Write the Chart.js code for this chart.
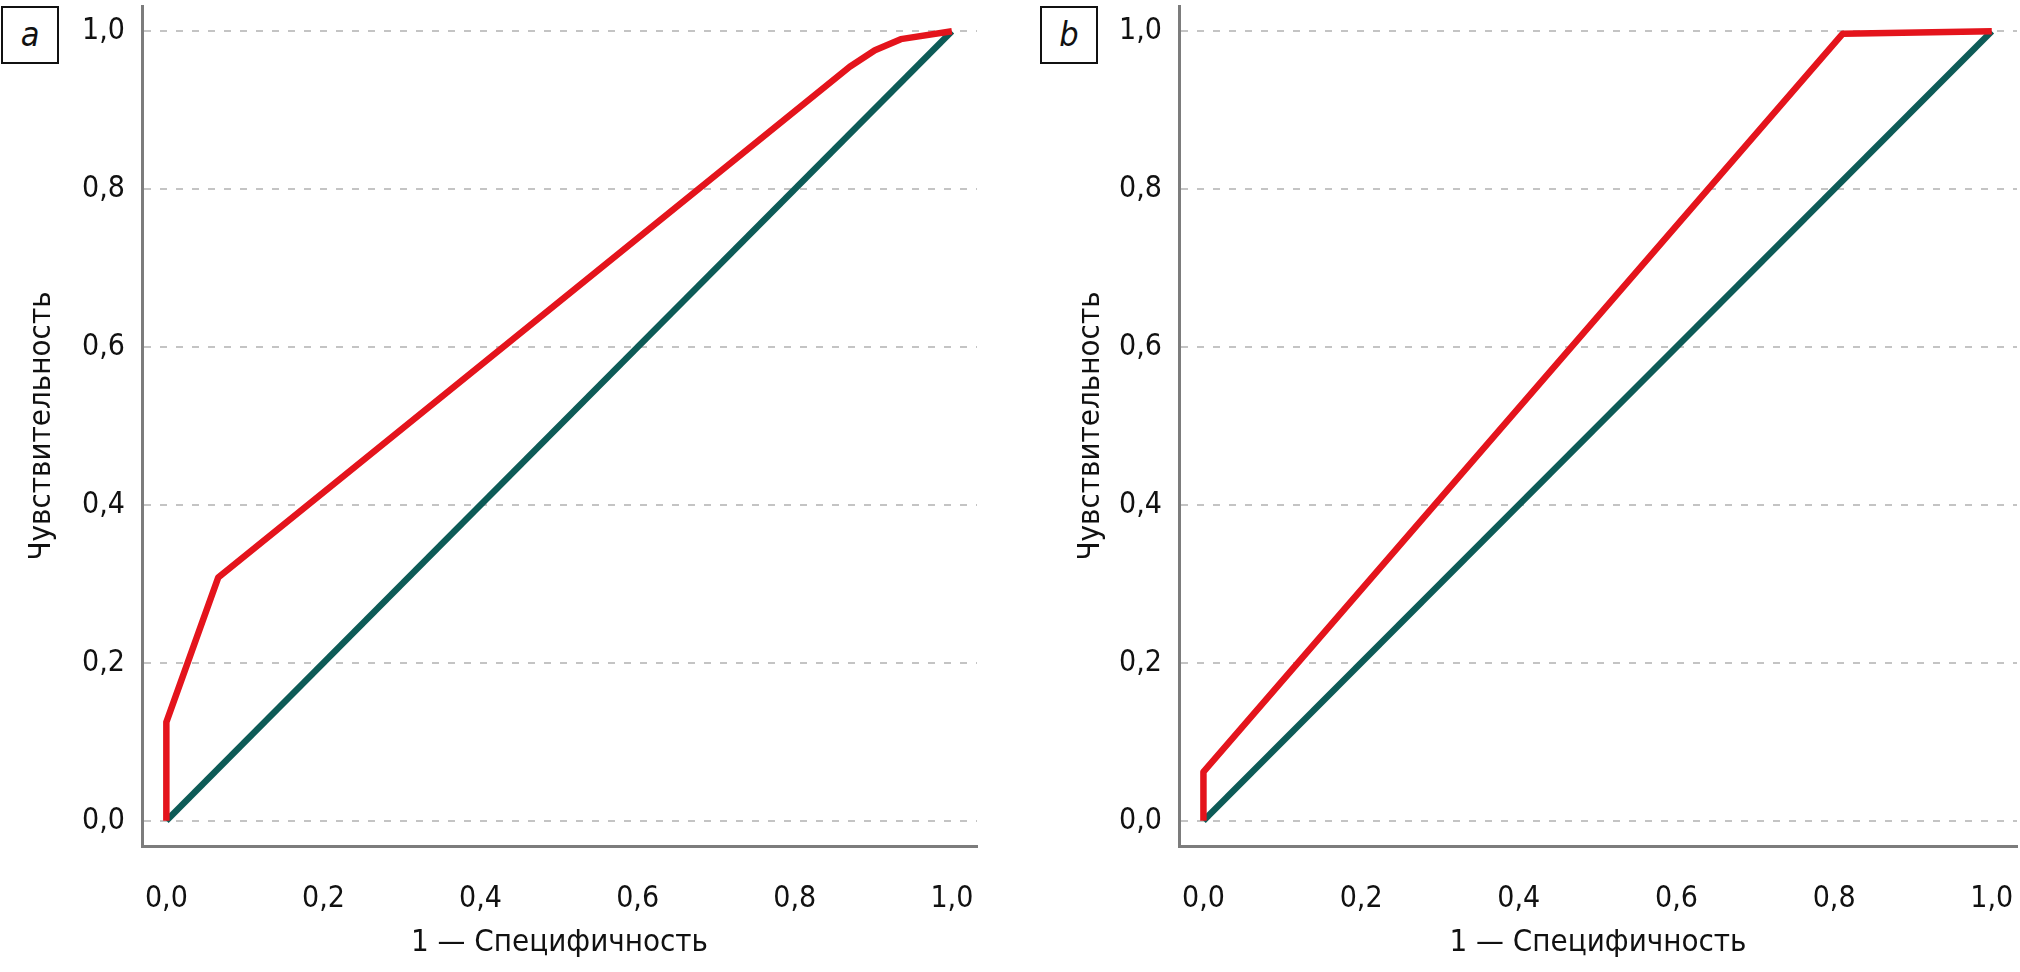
<!DOCTYPE html>
<html>
<head>
<meta charset="utf-8">
<script src="https://cdn.jsdelivr.net/npm/chart.js@4/dist/chart.umd.min.js"></script>
<style>
  html, body { margin: 0; padding: 0; background: #fff; }
  body { width: 2020px; height: 972px; position: relative; overflow: hidden; }
  canvas { position: absolute; top: 0; }
  .tag {
    position: absolute; top: 6px; width: 54px; height: 54px;
    border: 2px solid #111; font: italic 34px "DejaVu Sans Condensed", sans-serif;
    text-align: center; line-height: 52px; color: #111;
  }
</style>
</head>
<body>
<div class="tag" style="left:1px">a</div>
<div class="tag" style="left:1040px">b</div>
<canvas id="chartA" width="990" height="972" style="left:0"></canvas>
<canvas id="chartB" width="1010" height="972" style="left:1010px"></canvas>
<script>
// значения
const tickValues = [0, 0.2, 0.4, 0.6, 0.8, 1.0];
const diagX = [0, 1];
const diagY = [0, 1];
const fprA = [0, 0, 0.066, 0.87, 0.902, 0.935, 1];
const tprA = [0, 0.125, 0.308, 0.955, 0.976, 0.99, 1];
const fprB = [0, 0, 0.811, 1];
const tprB = [0, 0.062, 0.997, 1];

const xTitle = '1 — Специфичность';
const yTitle = 'Чувствительность';

const RED = '#e4141c';
const GREEN = '#0d5b57';

Chart.defaults.font.family = '"DejaVu Sans Condensed", sans-serif';
Chart.defaults.color = '#111';

const toPoints = (xs, ys) => xs.map((x, i) => ({ x, y: ys[i] }));
const fmt = v => v.toFixed(1).replace('.', ',');
const fixTicks = scale => { scale.ticks = tickValues.map(v => ({ value: v })); };

function makeChart(id, fpr, tpr, yWidth, yTitlePad, padRight) {
  return new Chart(document.getElementById(id), {
    type: 'line',
    data: {
      datasets: [
        {
          data: toPoints(fpr, tpr),
          borderColor: RED,
          borderWidth: 6.5,
          pointRadius: 0,
          tension: 0,
          borderJoinStyle: 'round',
        },
        {
          data: toPoints(diagX, diagY),
          borderColor: GREEN,
          borderWidth: 6.5,
          pointRadius: 0,
          tension: 0,
        },
      ],
    },
    options: {
      responsive: false,
      animation: false,
      layout: { padding: { top: 6, right: padRight, left: 0, bottom: 0 } },
      plugins: { legend: { display: false }, tooltip: { enabled: false } },
      scales: {
        x: {
          type: 'linear',
          min: -0.031,
          max: 1.032,
          afterBuildTicks: fixTicks,
          afterFit: s => { s.height = 126; s.paddingLeft = 0; s.paddingRight = 0; },
          grid: { display: false },
          border: { display: true, color: '#7c7c7c', width: 3 },
          ticks: { callback: fmt, padding: 27, font: { size: 30 }, maxRotation: 0 },
          title: { display: true, text: xTitle, font: { size: 31 }, padding: { top: 0, bottom: 10 } },
        },
        y: {
          type: 'linear',
          min: -0.032,
          max: 1.032,
          afterBuildTicks: fixTicks,
          afterFit: s => { s.width = yWidth; s.paddingTop = 0; s.paddingBottom = 0; },
          grid: { color: '#c4c4c4', lineWidth: 2, drawTicks: false },
          border: { display: true, color: '#7c7c7c', width: 3, dash: [7, 9] },
          ticks: { callback: fmt, padding: 17, font: { size: 30 } },
          title: { display: true, text: yTitle, font: { size: 31 }, padding: { top: yTitlePad, bottom: 0 } },
        },
      },
    },
  });
}

makeChart('chartA', fprA, tprA, 142, 23, 13);
makeChart('chartB', fprB, tprB, 169, 62, 3);
</script>
</body>
</html>
